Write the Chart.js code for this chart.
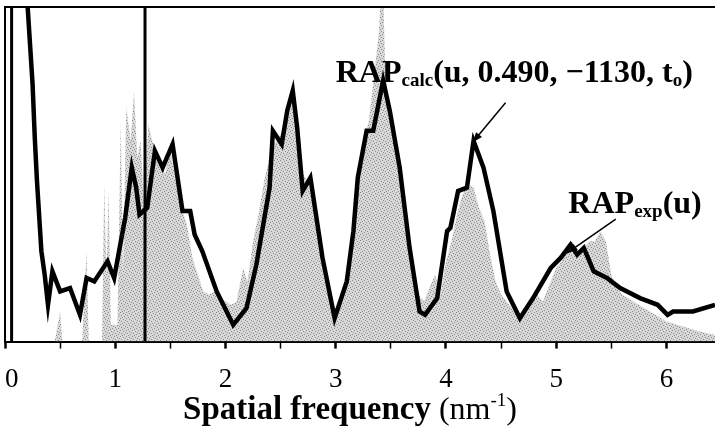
<!DOCTYPE html>
<html>
<head>
<meta charset="utf-8">
<script src="https://cdn.jsdelivr.net/npm/chart.js@4.4.1/dist/chart.umd.min.js"></script>
<style>
html, body { margin: 0; padding: 0; background: #fff; }
</style>
</head>
<body>
<canvas id="rap" width="715" height="434"></canvas>
<script>
// spatial frequency (nm^-1) and radially averaged power, calculated curve
const calcU = [0.19, 0.25, 0.27, 0.29, 0.33, 0.36, 0.39, 0.43, 0.50, 0.59,
  0.68, 0.74, 0.81, 0.93, 0.99, 1.09, 1.15, 1.19, 1.22, 1.29,
  1.36, 1.43, 1.52, 1.61, 1.68, 1.72, 1.79, 1.92, 2.07, 2.19,
  2.28, 2.40, 2.43, 2.51, 2.56, 2.61, 2.65, 2.70, 2.77, 2.88,
  2.99, 3.10, 3.16, 3.20, 3.28, 3.34, 3.43, 3.49, 3.58, 3.67,
  3.76, 3.81, 3.92, 4.01, 4.04, 4.11, 4.19, 4.25, 4.34, 4.43,
  4.55, 4.67, 4.79, 4.95, 5.04, 5.13, 5.19, 5.25, 5.34, 5.46,
  5.58, 5.76, 5.92, 6.01, 6.06, 6.24, 6.44];
const calcRAP = [108, 77, 61, 48, 27, 20, 11, 21, 15, 16,
  8, 19, 18, 24, 19, 37, 52, 46, 38, 40,
  57, 52, 59, 39, 39, 32, 27, 15, 5, 10,
  23, 46, 63, 59, 69, 75, 64, 45, 49, 25,
  7, 18, 33, 49, 63, 63, 78, 69, 52, 28,
  9, 8, 13, 33, 34, 45, 46, 60, 52, 39,
  15, 7, 13, 22, 25, 29, 26, 28, 21, 19,
  16, 13, 11, 8, 9, 9, 11];

// experimental curve (grey area)
const expU = [0, 0.45, 0.50, 0.52, 0.70, 0.74, 0.76, 0.88, 0.90, 0.92,
  0.94, 0.96, 1.02, 1.05, 1.07, 1.10, 1.14, 1.17, 1.20, 1.23,
  1.26, 1.30, 1.35, 1.40, 1.45, 1.50, 1.55, 1.60, 1.65, 1.70,
  1.75, 1.80, 1.85, 1.90, 1.95, 2.00, 2.05, 2.10, 2.16, 2.20,
  2.25, 2.30, 2.35, 2.42, 2.50, 2.56, 2.61, 2.66, 2.70, 2.75,
  2.80, 2.85, 2.90, 2.95, 3.00, 3.05, 3.10, 3.15, 3.20, 3.25,
  3.30, 3.35, 3.39, 3.41, 3.43, 3.45, 3.50, 3.55, 3.60, 3.65,
  3.70, 3.75, 3.80, 3.85, 3.90, 3.95, 4.00, 4.05, 4.10, 4.15,
  4.20, 4.25, 4.30, 4.35, 4.40, 4.45, 4.50, 4.55, 4.60, 4.67,
  4.75, 4.80, 4.88, 4.95, 5.00, 5.05, 5.10, 5.15, 5.20, 5.25,
  5.30, 5.35, 5.40, 5.45, 5.50, 5.55, 5.60, 5.70, 5.80, 5.90,
  6.00, 6.10, 6.20, 6.30, 6.44];
const expRAP = [0, 0, 9, 0, 0, 27, 0, 0, 47, 20,
  45, 5, 5, 66, 20, 70, 60, 75, 55, 60,
  40, 65, 58, 55, 50, 57, 48, 40, 35, 25,
  20, 15, 14, 15, 13, 12, 11, 12, 22, 18,
  30, 38, 48, 58, 62, 66, 73, 63, 50, 48,
  40, 28, 18, 12, 10, 14, 20, 34, 50, 60,
  66, 80, 92, 104, 105, 80, 66, 58, 46, 30,
  20, 14, 12, 16, 20, 14, 24, 30, 38, 44,
  47, 46, 40, 36, 26, 18, 14, 12, 10, 8,
  12, 15, 12, 18, 22, 24, 27, 30, 25, 28,
  30, 30, 33, 30, 20, 16, 14, 12, 10, 8,
  6, 5, 4, 3, 2];

// the two vertical marker lines
const markerU = [0.06, 1.27];

const serif = "'Liberation Serif', 'Times New Roman', serif";

function toPoints(xs, ys) {
  return xs.map((x, i) => ({x: x, y: ys[i]}));
}

// speckled grey like the scanned fill
function greyPattern() {
  const c = document.createElement('canvas');
  c.width = 6; c.height = 6;
  const g = c.getContext('2d');
  g.fillStyle = '#d8d8d8';
  g.fillRect(0, 0, 6, 6);
  g.fillStyle = '#8c8c8c';
  [[0, 0], [3, 1], [1, 3], [4, 4], [5, 2], [2, 5]].forEach(p => g.fillRect(p[0], p[1], 1, 1));
  return g.createPattern(c, 'repeat');
}

// labels: pieces of text with font and vertical shift
const labels = [
  {x: 3.0, y: 77.5, parts: [
    {t: 'RAP', f: 'bold 32px ' + serif, dy: 0},
    {t: 'calc', f: 'bold 19px ' + serif, dy: 4},
    {t: '(u, 0.490, \u22121130, t', f: 'bold 32px ' + serif, dy: 0},
    {t: 'o', f: 'bold 19px ' + serif, dy: 4},
    {t: ')', f: 'bold 32px ' + serif, dy: 0}
  ]},
  {x: 5.11, y: 38.5, parts: [
    {t: 'RAP', f: 'bold 32px ' + serif, dy: 0},
    {t: 'exp', f: 'bold 19px ' + serif, dy: 4},
    {t: '(u)', f: 'bold 32px ' + serif, dy: 0}
  ]}
];
const arrows = [
  {from: [4.54, 71.4], to: [4.24, 59.5]},
  {from: [5.54, 36.6], to: [5.10, 26.5]}
];

function drawParts(ctx, parts, x, y) {
  parts.forEach(p => {
    ctx.font = p.f;
    ctx.fillText(p.t, x, y + p.dy);
    x += ctx.measureText(p.t).width;
  });
}
function partsWidth(ctx, parts) {
  let w = 0;
  parts.forEach(p => { ctx.font = p.f; w += ctx.measureText(p.t).width; });
  return w;
}

const extras = {
  id: 'extras',
  afterDraw(chart) {
    const ctx = chart.ctx;
    const a = chart.chartArea;
    const xs = chart.scales.x, ys = chart.scales.y;
    ctx.save();
    ctx.strokeStyle = '#000';
    ctx.fillStyle = '#000';
    // frame: left and top
    ctx.lineWidth = 2;
    ctx.beginPath();
    ctx.moveTo(a.left, a.bottom);
    ctx.lineTo(a.left, a.top);
    ctx.lineTo(a.right, a.top);
    ctx.stroke();

    ctx.textBaseline = 'alphabetic';
    ctx.textAlign = 'left';
    labels.forEach(l => drawParts(ctx, l.parts, xs.getPixelForValue(l.x), ys.getPixelForValue(l.y)));

    ctx.lineWidth = 1.5;
    arrows.forEach(ar => {
      const x0 = xs.getPixelForValue(ar.from[0]), y0 = ys.getPixelForValue(ar.from[1]);
      const x1 = xs.getPixelForValue(ar.to[0]), y1 = ys.getPixelForValue(ar.to[1]);
      const ang = Math.atan2(y1 - y0, x1 - x0);
      ctx.beginPath();
      ctx.moveTo(x0, y0);
      ctx.lineTo(x1, y1);
      ctx.stroke();
      ctx.beginPath();
      ctx.moveTo(x1, y1);
      ctx.lineTo(x1 - 11 * Math.cos(ang - 0.35), y1 - 11 * Math.sin(ang - 0.35));
      ctx.lineTo(x1 - 11 * Math.cos(ang + 0.35), y1 - 11 * Math.sin(ang + 0.35));
      ctx.closePath();
      ctx.fill();
    });

    // axis title, bold + regular with superscript
    const title = [
      {t: 'Spatial frequency', f: 'bold 33px ' + serif, dy: 0},
      {t: ' (nm', f: '32px ' + serif, dy: 0},
      {t: '-1', f: '19px ' + serif, dy: -13},
      {t: ')', f: '32px ' + serif, dy: 0}
    ];
    const w = partsWidth(ctx, title);
    drawParts(ctx, title, 350 - w / 2, 419);
    ctx.restore();
  }
};

const ctx = document.getElementById('rap').getContext('2d');
new Chart(ctx, {
  type: 'line',
  data: {
    datasets: [
      {
        label: 'RAPcalc',
        data: toPoints(calcU, calcRAP),
        borderColor: '#000',
        borderWidth: 4.5,
        pointRadius: 0,
        tension: 0,
        fill: false,
        order: 1
      },
      {
        label: 'marker 1',
        data: [{x: markerU[0], y: 0}, {x: markerU[0], y: 100}],
        borderColor: '#000',
        borderWidth: 3,
        pointRadius: 0,
        order: 2
      },
      {
        label: 'marker 2',
        data: [{x: markerU[1], y: 0}, {x: markerU[1], y: 100}],
        borderColor: '#000',
        borderWidth: 3,
        pointRadius: 0,
        order: 2
      },
      {
        label: 'RAPexp',
        data: toPoints(expU, expRAP),
        borderColor: 'rgba(0,0,0,0)',
        borderWidth: 0,
        backgroundColor: greyPattern(),
        pointRadius: 0,
        tension: 0,
        fill: 'origin',
        order: 3
      }
    ]
  },
  options: {
    responsive: false,
    animation: false,
    events: [],
    layout: {padding: {left: 5, right: 0, top: 7, bottom: 23}},
    plugins: {
      legend: {display: false},
      tooltip: {enabled: false}
    },
    scales: {
      x: {
        type: 'linear',
        min: 0,
        max: 6.44,
        afterFit: s => { s.paddingLeft = 0; s.paddingRight = 0; },
        ticks: {
          stepSize: 0.5,
          includeBounds: false,
          autoSkip: false,
          maxRotation: 0,
          padding: 15,
          color: '#000',
          font: {family: serif, size: 27},
          callback: v => v === 0 ? '  0' : (Number.isInteger(v) ? String(v) : '')
        },
        grid: {
          drawOnChartArea: false,
          tickLength: 7,
          tickColor: '#000',
          tickWidth: c => Number.isInteger(c.tick.value) ? 2.5 : 1.5
        },
        border: {color: '#000', width: 2}
      },
      y: {
        display: false,
        min: 0,
        max: 100
      }
    }
  },
  plugins: [extras]
});
</script>
</body>
</html>
